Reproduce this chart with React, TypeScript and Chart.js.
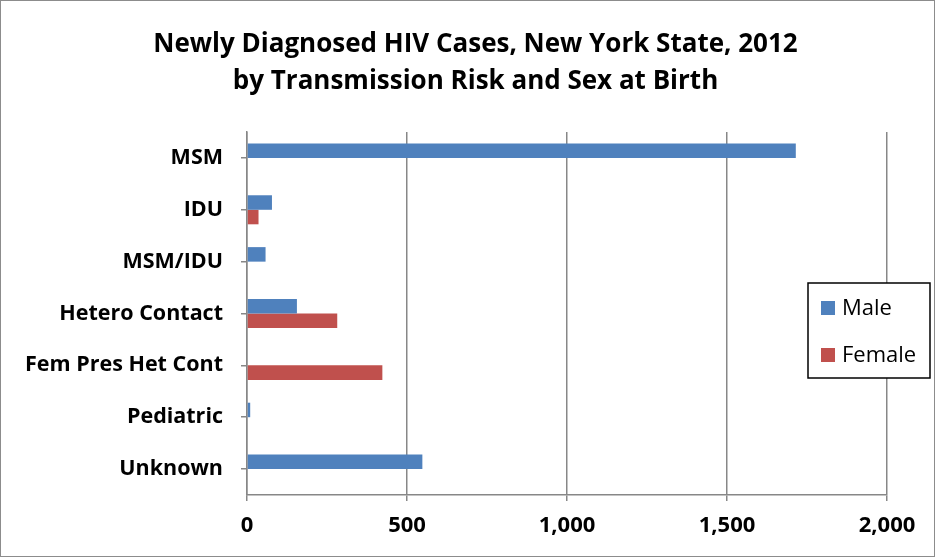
import React, { useEffect, useRef } from "react";
import { Chart, registerables } from "chart.js";

Chart.register(...registerables);

const categories = ["MSM", "IDU", "MSM/IDU", "Hetero Contact", "Fem Pres Het Cont", "Pediatric", "Unknown"];
const maleValues = [1715, 78, 58, 156, 0, 10, 548];
const femaleValues = [0, 36, 0, 282, 423, 0, 0];
const xTickValues = [0, 500, 1000, 1500, 2000];
const titleLines = ["Newly Diagnosed HIV Cases, New York State, 2012", "by Transmission Risk and Sex at Birth"];
const seriesNames = ["Male", "Female"];
const seriesColors = ["#4F81BD", "#C0504D"];

const FONT = "'Open Sans', Lato, sans-serif";

const frame = {
  id: "frame",
  beforeDraw(chart: any) {
    const { ctx, width, height } = chart;
    ctx.save();
    ctx.fillStyle = "#ffffff";
    ctx.fillRect(0, 0, width, height);
    ctx.strokeStyle = "#8c8c8c";
    ctx.lineWidth = 1;
    ctx.strokeRect(0.5, 0.5, width - 1, height - 1);
    ctx.restore();
  },
};

// Two-line title centred on the whole picture (as in the reference)
const centredTitle = {
  id: "centredTitle",
  afterDraw(chart: any) {
    const { ctx, width } = chart;
    ctx.save();
    ctx.fillStyle = "#000000";
    ctx.font = `bold 26px ${FONT}`;
    ctx.textAlign = "center";
    ctx.textBaseline = "middle";
    titleLines.forEach((line, i) => {
      ctx.fillText(line, width / 2 + 8, 45 + i * 37);
    });
    ctx.restore();
  },
};

const boxLegend = {
  id: "boxLegend",
  afterDraw(chart: any) {
    const { ctx, chartArea } = chart;
    const left = chartArea.right - 79;
    const top = chartArea.top + 151;
    const w = 122;
    const h = 95;
    ctx.save();
    ctx.fillStyle = "#ffffff";
    ctx.fillRect(left, top, w, h);
    ctx.strokeStyle = "#000000";
    ctx.lineWidth = 1.5;
    ctx.strokeRect(left, top, w, h);
    ctx.font = `22px ${FONT}`;
    ctx.textBaseline = "middle";
    ctx.textAlign = "left";
    seriesNames.forEach((name, i) => {
      const cy = top + 25 + i * 47;
      ctx.fillStyle = seriesColors[i];
      ctx.fillRect(left + 13, cy - 7, 14, 14);
      ctx.fillStyle = "#000000";
      ctx.fillText(name, left + 34, cy + 1);
    });
    ctx.restore();
  },
};

export default function App() {
  const ref = useRef<HTMLCanvasElement | null>(null);

  useEffect(() => {
    if (!ref.current) return;
    const chart = new Chart(ref.current, {
      type: "bar",
      data: {
        labels: categories,
        datasets: [
          { label: seriesNames[0], data: maleValues, backgroundColor: seriesColors[0] },
          { label: seriesNames[1], data: femaleValues, backgroundColor: seriesColors[1] },
        ],
      },
      options: {
        indexAxis: "y",
        responsive: false,
        animation: false,
        layout: { padding: { left: 0, right: 48, top: 132, bottom: 0 } },
        datasets: { bar: { categoryPercentage: 0.56, barPercentage: 1.0 } },
        plugins: {
          legend: { display: false },
          tooltip: { enabled: false },
          title: { display: false },
        },
        scales: {
          x: {
            type: "linear",
            min: 0,
            max: 2000,
            afterBuildTicks(scale: any) {
              scale.ticks = xTickValues.map((v) => ({ value: v }));
            },
            afterFit(scale: any) {
              scale.height = 62;
            },
            grid: {
              color: "#878787",
              lineWidth: 1.5,
              tickLength: 6,
              drawTicks: true,
            },
            border: { color: "#878787", width: 1.5 },
            ticks: {
              color: "#000000",
              padding: 12,
              font: { family: FONT, size: 22, weight: "bold" },
              callback: (v: any) => Number(v).toLocaleString("en-US"),
            },
          },
          y: {
            afterFit(scale: any) {
              scale.width = 247;
            },
            grid: {
              display: true,
              drawOnChartArea: false,
              offset: false,
              tickLength: 6,
              color: "#878787",
              lineWidth: 1.5,
            },
            border: { color: "#878787", width: 1.5 },
            ticks: {
              color: "#000000",
              padding: 18,
              font: { family: FONT, size: 21.5, weight: "bold" },
            },
          },
        },
      },
      plugins: [frame, centredTitle, boxLegend],
    });
    return () => chart.destroy();
  }, []);

  return (
    <div style={{ position: "fixed", left: 0, top: 0, width: 935, height: 557 }}>
      <canvas ref={ref} width={935} height={557} style={{ width: 935, height: 557, display: "block" }} />
    </div>
  );
}
